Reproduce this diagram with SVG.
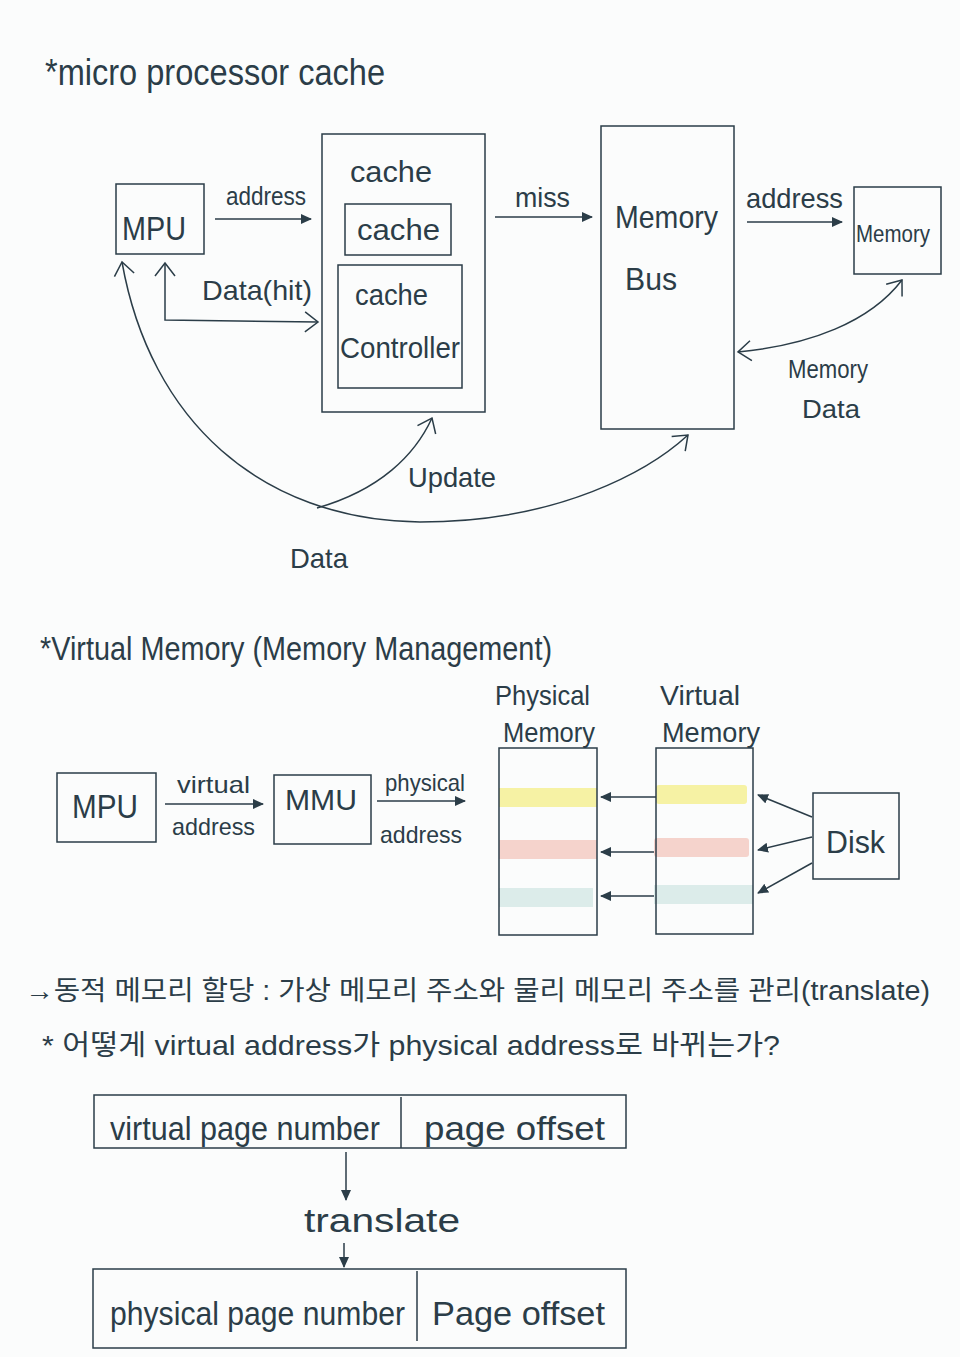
<svg xmlns="http://www.w3.org/2000/svg" width="960" height="1357" viewBox="0 0 960 1357">
<style>
.bg{fill:#fbfcfc}
.box{fill:none;stroke:#2b3d48;stroke-width:1.5}
.ln{fill:none;stroke:#2b3d48;stroke-width:1.5}
text{font-family:"Liberation Sans","Noto Sans CJK KR",sans-serif;fill:#2b3d48}
</style>
<defs>
<marker id="tri" markerUnits="userSpaceOnUse" markerWidth="12" markerHeight="10" refX="10" refY="5" orient="auto-start-reverse"><path d="M0,0 L11,5 L0,10 Z" fill="#2b3d48"/></marker>
<marker id="open" markerUnits="userSpaceOnUse" markerWidth="18" markerHeight="22" refX="15" refY="11" orient="auto-start-reverse"><path d="M2,1 L15,11 L2,21" fill="none" stroke="#2b3d48" stroke-width="1.5"/></marker>
</defs>
<rect class="bg" x="0" y="0" width="960" height="1357"/>

<text x="45" y="85" font-size="36" textLength="340" lengthAdjust="spacingAndGlyphs">*micro processor cache</text>

<g id="mpu1"><rect class="box" x="116" y="184" width="88" height="70"/><text x="122" y="240" font-size="34" textLength="64" lengthAdjust="spacingAndGlyphs">MPU</text></g>
<g id="cacheOuter"><rect class="box" x="322" y="134" width="163" height="278"/><text x="350" y="182" font-size="30" textLength="82" lengthAdjust="spacingAndGlyphs">cache</text></g>
<g id="cacheInner"><rect class="box" x="345" y="204" width="106" height="51"/><text x="357" y="240" font-size="30" textLength="83" lengthAdjust="spacingAndGlyphs">cache</text></g>
<g id="cacheController"><rect class="box" x="338" y="265" width="124" height="123"/><text x="355" y="305" font-size="30" textLength="73" lengthAdjust="spacingAndGlyphs">cache</text><text x="340" y="358" font-size="30" textLength="120" lengthAdjust="spacingAndGlyphs">Controller</text></g>
<g id="memoryBus"><rect class="box" x="601" y="126" width="133" height="303"/><text x="615" y="228" font-size="32" textLength="103" lengthAdjust="spacingAndGlyphs">Memory</text><text x="625" y="290" font-size="32" textLength="52" lengthAdjust="spacingAndGlyphs">Bus</text></g>
<g id="memory1"><rect class="box" x="854" y="187" width="87" height="87"/><text x="856" y="242" font-size="24" textLength="74" lengthAdjust="spacingAndGlyphs">Memory</text></g>

<g id="connectors1">
<line class="ln" x1="215" y1="219" x2="311" y2="219" marker-end="url(#tri)"/>
<path class="ln" d="M165,263 L165,320 L318,322" marker-start="url(#open)" marker-end="url(#open)"/>
<line class="ln" x1="495" y1="217" x2="592" y2="217" marker-end="url(#tri)"/>
<line class="ln" x1="747" y1="222" x2="842" y2="222" marker-end="url(#tri)"/>
<path class="ln" d="M738,352 C810,345 870,322 902,280" marker-start="url(#open)" marker-end="url(#open)"/>
<path class="ln" d="M122,262 C150,420 260,520 420,522 C560,522 650,470 688,435" marker-start="url(#open)" marker-end="url(#open)"/>
<path class="ln" d="M317,508 C380,490 415,455 432,418" marker-end="url(#open)"/>
</g>
<g id="labels1">
<text x="226" y="205" font-size="26" textLength="80" lengthAdjust="spacingAndGlyphs">address</text>
<text x="202" y="300" font-size="28" textLength="110" lengthAdjust="spacingAndGlyphs">Data(hit)</text>
<text x="515" y="207" font-size="28" textLength="55" lengthAdjust="spacingAndGlyphs">miss</text>
<text x="746" y="208" font-size="28" textLength="97" lengthAdjust="spacingAndGlyphs">address</text>
<text x="788" y="378" font-size="26" textLength="80" lengthAdjust="spacingAndGlyphs">Memory</text>
<text x="802" y="418" font-size="26" textLength="58" lengthAdjust="spacingAndGlyphs">Data</text>
<text x="408" y="487" font-size="28" textLength="88" lengthAdjust="spacingAndGlyphs">Update</text>
<text x="290" y="568" font-size="28" textLength="58" lengthAdjust="spacingAndGlyphs">Data</text>
</g>

<text x="40" y="660" font-size="34" textLength="512" lengthAdjust="spacingAndGlyphs">*Virtual Memory (Memory Management)</text>

<g id="mpu2"><rect class="box" x="57" y="773" width="99" height="69"/><text x="72" y="818" font-size="34" textLength="66" lengthAdjust="spacingAndGlyphs">MPU</text></g>
<g id="mmu"><rect class="box" x="274" y="775" width="97" height="69"/><text x="285" y="810" font-size="30" textLength="72" lengthAdjust="spacingAndGlyphs">MMU</text></g>
<g id="physicalMemory">
<rect x="499" y="788" width="98" height="19" fill="#f6f2a4"/>
<rect x="499" y="840" width="98" height="19" fill="#f5d3cc"/>
<rect x="499" y="888" width="94" height="19" fill="#dcecea"/>
<rect class="box" x="499" y="748" width="98" height="187"/>
<text x="495" y="705" font-size="28" textLength="95" lengthAdjust="spacingAndGlyphs">Physical</text>
<text x="503" y="742" font-size="28" textLength="92" lengthAdjust="spacingAndGlyphs">Memory</text>
</g>
<g id="virtualMemory">
<rect x="656" y="785" width="91" height="19" rx="3" fill="#f6f2a4"/>
<rect x="654" y="838" width="95" height="19" rx="3" fill="#f5d3cc"/>
<rect x="654" y="885" width="99" height="19" fill="#dcecea"/>
<rect class="box" x="656" y="748" width="97" height="186"/>
<text x="660" y="705" font-size="28" textLength="80" lengthAdjust="spacingAndGlyphs">Virtual</text>
<text x="662" y="742" font-size="28" textLength="98" lengthAdjust="spacingAndGlyphs">Memory</text>
</g>
<g id="disk"><rect class="box" x="813" y="793" width="86" height="86"/><text x="826" y="853" font-size="32" textLength="59" lengthAdjust="spacingAndGlyphs">Disk</text></g>

<g id="connectors2">
<line class="ln" x1="165" y1="804" x2="263" y2="804" marker-end="url(#tri)"/>
<line class="ln" x1="377" y1="801" x2="465" y2="801" marker-end="url(#tri)"/>
<line class="ln" x1="656" y1="797" x2="601" y2="797" marker-end="url(#tri)"/>
<line class="ln" x1="654" y1="852" x2="601" y2="852" marker-end="url(#tri)"/>
<line class="ln" x1="654" y1="896" x2="601" y2="896" marker-end="url(#tri)"/>
<line class="ln" x1="812" y1="817" x2="758" y2="795" marker-end="url(#tri)"/>
<line class="ln" x1="812" y1="837" x2="758" y2="850" marker-end="url(#tri)"/>
<line class="ln" x1="812" y1="863" x2="758" y2="893" marker-end="url(#tri)"/>
<line class="ln" x1="346" y1="1152" x2="346" y2="1200" marker-end="url(#tri)"/>
<line class="ln" x1="344" y1="1243" x2="344" y2="1267" marker-end="url(#tri)"/>
</g>
<g id="labels2">
<text x="177" y="793" font-size="24" textLength="73" lengthAdjust="spacingAndGlyphs">virtual</text>
<text x="172" y="835" font-size="24" textLength="83" lengthAdjust="spacingAndGlyphs">address</text>
<text x="385" y="791" font-size="24" textLength="80" lengthAdjust="spacingAndGlyphs">physical</text>
<text x="380" y="843" font-size="24" textLength="82" lengthAdjust="spacingAndGlyphs">address</text>
</g>

<text x="25" y="1000" font-size="27" textLength="905" lengthAdjust="spacingAndGlyphs">→동적 메모리 할당 : 가상 메모리 주소와 물리 메모리 주소를 관리(translate)</text>
<text x="42" y="1055" font-size="28" textLength="738" lengthAdjust="spacingAndGlyphs">* 어떻게 virtual address가 physical address로 바뀌는가?</text>

<g id="virtualAddress"><rect class="box" x="94" y="1095" width="532" height="53"/><line class="ln" x1="401" y1="1097" x2="401" y2="1148"/>
<text x="110" y="1140" font-size="34" textLength="270" lengthAdjust="spacingAndGlyphs">virtual page number</text>
<text x="424" y="1140" font-size="34" textLength="181" lengthAdjust="spacingAndGlyphs">page offset</text></g>
<text x="304" y="1232" font-size="34" textLength="156" lengthAdjust="spacingAndGlyphs">translate</text>
<g id="physicalAddress"><rect class="box" x="93" y="1269" width="533" height="79"/><line class="ln" x1="417" y1="1271" x2="417" y2="1341"/>
<text x="110" y="1325" font-size="34" textLength="295" lengthAdjust="spacingAndGlyphs">physical page number</text>
<text x="432" y="1325" font-size="34" textLength="173" lengthAdjust="spacingAndGlyphs">Page offset</text></g>
</svg>
